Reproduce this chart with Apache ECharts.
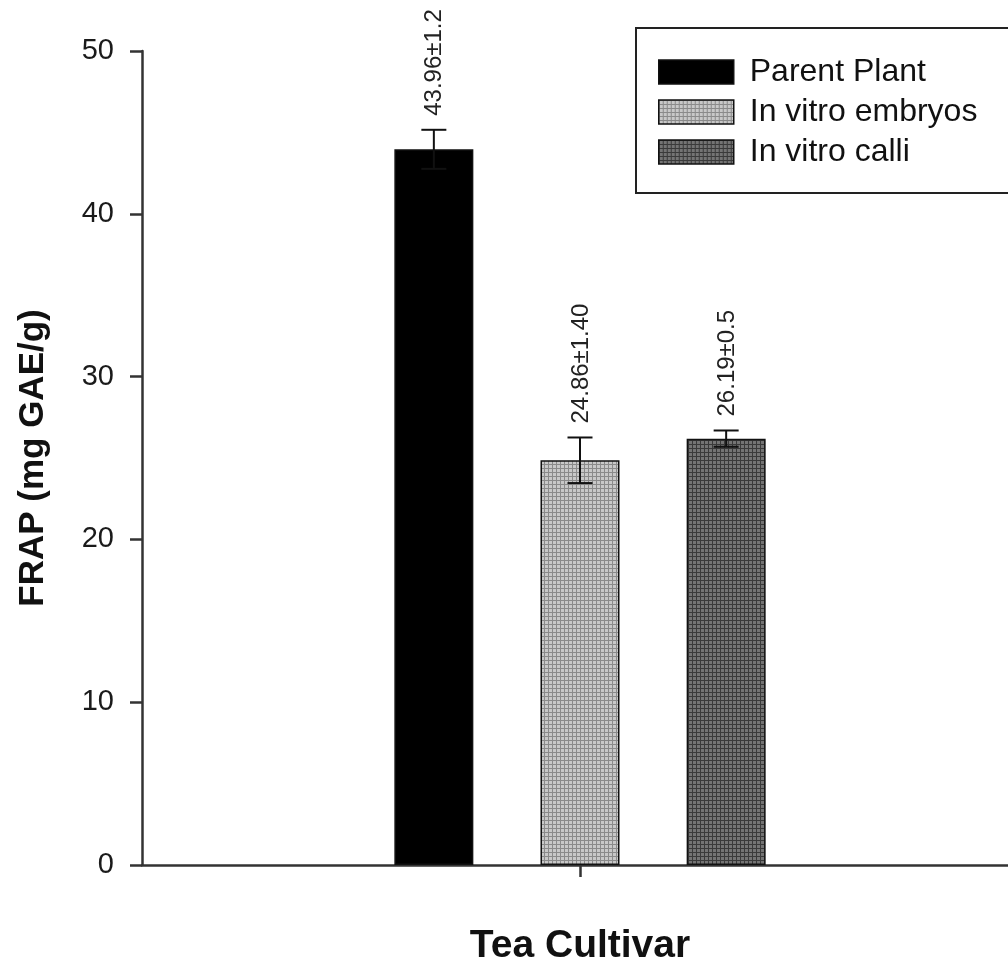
<!DOCTYPE html>
<html>
<head>
<meta charset="utf-8">
<script src="https://cdn.jsdelivr.net/npm/echarts@6/dist/echarts.min.js"></script>
<style>html,body{margin:0;padding:0;background:#fff;overflow:hidden}#c{width:1018px;height:966px}</style>
</head>
<body>
<div id="c"></div>
<script>
const categories = [''];
const seriesNames = ['Parent Plant', 'In vitro embryos', 'In vitro calli'];
const means = [43.96, 24.86, 26.19];
const errors = [1.2, 1.40, 0.5];
const valueLabels = ['43.96±1.2', '24.86±1.40', '26.19±0.5'];
const yTicks = [0, 10, 20, 30, 40, 50];

const FONT = '"Liberation Sans", Arial, Helvetica, sans-serif';
const BAR_W = 79;
const GAP_RATIO = 0.85;

function makePattern(base, dot) {
  const c = document.createElement('canvas');
  c.width = 4; c.height = 4;
  const g = c.getContext('2d');
  g.fillStyle = base; g.fillRect(0, 0, 4, 4);
  g.fillStyle = dot;
  g.fillRect(0, 0, 4, 1);
  g.fillRect(0, 0, 1, 4);
  return { image: c, repeat: 'repeat' };
}
const fills = [
  '#000000',
  makePattern('#c8c8c8', '#8a8a8a'),
  makePattern('#747474', '#3a3a3a')
];

const chart = echarts.init(document.getElementById('c'), null, { renderer: 'canvas' });

const barSeries = seriesNames.map((name, i) => ({
  name: name,
  type: 'bar',
  data: [means[i]],
  barWidth: BAR_W,
  barGap: (GAP_RATIO * 100) + '%',
  itemStyle: { color: fills[i], borderColor: '#111', borderWidth: 1.5 },
  z: 2
}));

const errData = means.map((m, i) => [0, m, errors[i], i]);

const errSeries = {
  type: 'custom',
  data: errData,
  encode: { x: 0, y: 1 },
  z: 5,
  silent: true,
  renderItem: function (params, api) {
    const idx = api.value(3);
    const m = api.value(1), e = api.value(2);
    const step = BAR_W * (1 + GAP_RATIO);
    const off = (idx - (seriesNames.length - 1) / 2) * step;
    const top = api.coord([0, m + e]);
    const bot = api.coord([0, m - e]);
    const cx = top[0] + off;
    const cap = 12.5;
    const ls = { stroke: '#111', lineWidth: 2 };
    return {
      type: 'group',
      children: [
        { type: 'line', shape: { x1: cx, y1: top[1], x2: cx, y2: bot[1] }, style: ls },
        { type: 'line', shape: { x1: cx - cap, y1: top[1], x2: cx + cap, y2: top[1] }, style: ls },
        { type: 'line', shape: { x1: cx - cap, y1: bot[1], x2: cx + cap, y2: bot[1] }, style: ls },
        {
          type: 'text', x: cx + 1, y: top[1] - 14, rotation: Math.PI / 2,
          style: { text: valueLabels[idx], font: '24px ' + FONT, fill: '#222', align: 'left', verticalAlign: 'middle' }
        }
      ]
    };
  }
};

chart.setOption({
  animation: false,
  backgroundColor: '#fff',
  grid: { left: 142, right: 0, top: 51, bottom: 101, containLabel: false, outerBoundsMode: 'none' },
  legend: {
    data: seriesNames,
    orient: 'vertical',
    left: 636, top: 28,
    padding: [28, 60, 25, 22],
    borderColor: '#222', borderWidth: 2,
    icon: 'rect',
    itemWidth: 75, itemHeight: 24, itemGap: 8,
    textStyle: { fontFamily: FONT, fontSize: 32, color: '#111', lineHeight: 30, padding: [0, 0, 0, 11] },
    itemStyle: { borderColor: '#111', borderWidth: 1.5 },
    selectedMode: false
  },
  xAxis: {
    type: 'category',
    data: categories,
    name: 'Tea Cultivar',
    nameLocation: 'middle',
    nameGap: 62,
    nameTextStyle: { fontFamily: FONT, fontSize: 39, fontWeight: 'bold', color: '#111' },
    axisLine: { lineStyle: { color: '#333', width: 2.5 } },
    axisTick: { show: true, alignWithLabel: true, length: 12, lineStyle: { color: '#333', width: 2.5 } },
    axisLabel: { show: false },
    splitLine: { show: false }
  },
  yAxis: {
    type: 'value',
    min: yTicks[0], max: yTicks[yTicks.length - 1], interval: yTicks[1] - yTicks[0],
    name: 'FRAP (mg GAE/g)',
    nameLocation: 'middle',
    nameGap: 91,
    nameTextStyle: { fontFamily: FONT, fontSize: 35, fontWeight: 'bold', color: '#111' },
    axisLine: { show: true, lineStyle: { color: '#333', width: 2.5 } },
    axisTick: { show: true, length: 12, lineStyle: { color: '#333', width: 2.5 } },
    axisLabel: { margin: 28, fontFamily: FONT, fontSize: 29, color: '#1a1a1a' },
    splitLine: { show: false }
  },
  series: barSeries.concat([errSeries])
});
</script>
</body>
</html>
